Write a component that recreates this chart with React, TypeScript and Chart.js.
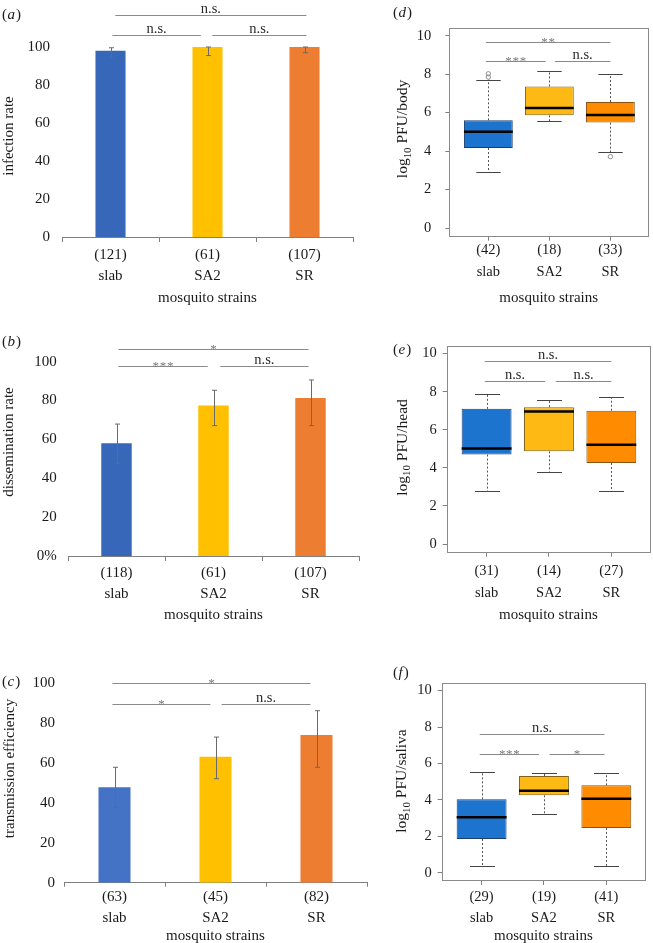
import React, { useEffect, useRef } from "react";
import { Chart, registerables } from "chart.js";

Chart.register(...registerables);

const FONT = '"Liberation Serif", "Times New Roman", Times, serif';
const TEXT = "#1a1a1a";
const AXIS = "#7f7f7f";
const SIG_LINE = "#8a8a8a";

// ---------- shared categories ----------
const strains = ["slab", "SA2", "SR"];
const xTitle = "mosquito strains";

// ---------- (a) infection rate ----------
const aCounts = ["(121)", "(61)", "(107)"];
const aRate = [98, 100, 100];
const aLow = [94.5, 95.5, 97];
const aHigh = [99.6, 100, 100];
const aSigFrom = [0.05, 0.02, 1.05];
const aSigTo = [2.02, 0.93, 2.02];
const aSigY = [116.8, 106.3, 106.3];
const aSigText = ["n.s.", "n.s.", "n.s."];

// ---------- (b) dissemination rate ----------
const bCounts = ["(118)", "(61)", "(107)"];
const bRate = [58, 77.4, 81.3];
const bLow = [47.7, 67.1, 67.1];
const bHigh = [67.9, 85.3, 90.6];
const bSigFrom = [0.02, 0.02, 1.07];
const bSigTo = [1.98, 0.94, 1.98];
const bSigY = [106.5, 97.8, 97.8];
const bSigText = ["*", "***", "n.s."];

// ---------- (c) transmission efficiency ----------
const cCounts = ["(63)", "(45)", "(82)"];
const cRate = [47.7, 63, 73.8];
const cLow = [37.7, 52, 57.7];
const cHigh = [57.7, 72.8, 86];
const cSigFrom = [-0.02, -0.02, 1.06];
const cSigTo = [1.94, 0.95, 1.94];
const cSigY = [100, 89.5, 89.5];
const cSigText = ["*", "*", "n.s."];

const rateTicks = [0, 20, 40, 60, 80, 100];
const rateTickLabels = ["0", "20", "40", "60", "80", "100"];
const rateTickLabelsPct = ["0%", "20", "40", "60", "80", "100"];

// ---------- (d) log10 PFU/body ----------
const dCounts = ["(42)", "(18)", "(33)"];
const dMin = [2.91, 5.56, 3.95];
const dQ1 = [4.16, 5.86, 5.48];
const dMed = [5.01, 6.24, 5.87];
const dQ3 = [5.6, 7.36, 6.55];
const dMax = [7.71, 8.18, 7.99];
const dOutX = [1, 1, 3];
const dOutY = [8.02, 7.85, 3.71];
const dSigFrom = [0.96, 0.96, 2.09];
const dSigTo = [3.0, 1.94, 3.0];
const dSigY = [9.69, 8.66, 8.66];
const dSigText = ["**", "***", "n.s."];

// ---------- (e) log10 PFU/head ----------
const eCounts = ["(31)", "(14)", "(27)"];
const eMin = [2.79, 3.79, 2.79];
const eQ1 = [4.7, 4.87, 4.26];
const eMed = [5.02, 6.96, 5.21];
const eQ3 = [7.1, 7.19, 7.0];
const eMax = [7.89, 7.58, 7.7];
const eOutX: number[] = [];
const eOutY: number[] = [];
const eSigFrom = [0.97, 0.97, 2.11];
const eSigTo = [3.0, 1.94, 3.0];
const eSigY = [9.59, 8.58, 8.58];
const eSigText = ["n.s.", "n.s.", "n.s."];

// ---------- (f) log10 PFU/saliva ----------
const fCounts = ["(29)", "(19)", "(41)"];
const fMin = [0.35, 3.23, 0.35];
const fQ1 = [1.85, 4.25, 2.46];
const fMed = [3.05, 4.5, 4.06];
const fQ3 = [4.03, 5.31, 4.8];
const fMax = [5.55, 5.5, 5.46];
const fOutX: number[] = [];
const fOutY: number[] = [];
const fSigFrom = [0.97, 0.97, 2.09];
const fSigTo = [2.97, 1.92, 2.97];
const fSigY = [7.61, 6.54, 6.54];
const fSigText = ["n.s.", "***", "*"];

const logTicks = [0, 2, 4, 6, 8, 10];
const logTickLabels = ["0", "2", "4", "6", "8", "10"];

// ---------- colours ----------
const barColorsAB = ["#3767b8", "#ffc000", "#ed7d31"];
const barColorsC = ["#4472c4", "#ffc000", "#ed7d31"];
const boxFill = ["#1c74cf", "#ffb914", "#ff8c00"];
const boxBorder = ["#1d3f6e", "#7f6118", "#8a5312"];

// ---------- drawing helpers ----------
function drawLetter(ctx: CanvasRenderingContext2D, letter: string, x: number, y: number) {
  ctx.save();
  ctx.fillStyle = TEXT;
  ctx.textBaseline = "middle";
  ctx.textAlign = "left";
  ctx.font = `15px ${FONT}`;
  ctx.fillText("(", x, y);
  let cx = x + ctx.measureText("(").width + 0.5;
  ctx.font = `italic 15px ${FONT}`;
  ctx.fillText(letter, cx, y);
  cx += ctx.measureText(letter).width + 1;
  ctx.font = `15px ${FONT}`;
  ctx.fillText(")", cx, y);
  ctx.restore();
}

function drawYTitle(ctx: CanvasRenderingContext2D, cx: number, cy: number, parts: { t: string; sub?: boolean }[], size: number) {
  ctx.save();
  ctx.translate(cx, cy);
  ctx.rotate(-Math.PI / 2);
  ctx.fillStyle = TEXT;
  ctx.textBaseline = "middle";
  ctx.textAlign = "left";
  const widths = parts.map((p) => {
    ctx.font = `${p.sub ? size * 0.7 : size}px ${FONT}`;
    return ctx.measureText(p.t).width;
  });
  const total = widths.reduce((a, b) => a + b, 0);
  let x = -total / 2;
  parts.forEach((p, i) => {
    ctx.font = `${p.sub ? size * 0.7 : size}px ${FONT}`;
    ctx.fillText(p.t, x, p.sub ? size * 0.3 : 0);
    x += widths[i];
  });
  ctx.restore();
}

function sigPlugin(from: number[], to: number[], yv: number[], text: string[]) {
  return {
    id: "sig",
    afterDraw(chart: any) {
      const { ctx } = chart;
      const xs = chart.scales.x;
      const ys = chart.scales.y;
      ctx.save();
      for (let i = 0; i < from.length; i++) {
        const x1 = xs.getPixelForValue(from[i]);
        const x2 = xs.getPixelForValue(to[i]);
        const y = Math.round(ys.getPixelForValue(yv[i])) + 0.5;
        ctx.strokeStyle = SIG_LINE;
        ctx.lineWidth = 1.2;
        ctx.beginPath();
        ctx.moveTo(x1, y);
        ctx.lineTo(x2, y);
        ctx.stroke();
        const isStar = text[i].startsWith("*");
        const mid = (x1 + x2) / 2;
        ctx.textAlign = "center";
        ctx.textBaseline = "alphabetic";
        if (isStar) {
          ctx.fillStyle = "#7a7a7a";
          ctx.font = `13px ${FONT}`;
          const n = text[i].length;
          const gap = 7.2;
          for (let k = 0; k < n; k++) {
            ctx.fillText("*", mid + (k - (n - 1) / 2) * gap, y + 3.5);
          }
        } else {
          ctx.fillStyle = "#2a2a2a";
          ctx.font = `14.5px ${FONT}`;
          ctx.fillText(text[i], mid, y - 3);
        }
      }
      ctx.restore();
    },
  };
}

function labelPlugin(rect: any, letter: string, letterPos: number[], titleParts: { t: string; sub?: boolean }[], titlePos: number[], titleSize: number) {
  return {
    id: "labels",
    afterDraw(chart: any) {
      const { ctx } = chart;
      drawLetter(ctx, letter, letterPos[0] - rect.left, letterPos[1] - rect.top);
      drawYTitle(ctx, titlePos[0] - rect.left, titlePos[1] - rect.top, titleParts, titleSize);
    },
  };
}

function errorBarPlugin(low: number[], high: number[]) {
  return {
    id: "errbars",
    afterDatasetsDraw(chart: any) {
      const { ctx } = chart;
      const xs = chart.scales.x;
      const ys = chart.scales.y;
      ctx.save();
      ctx.strokeStyle = "#6a6a6a";
      ctx.lineWidth = 1;
      for (let i = 0; i < low.length; i++) {
        const x = Math.round(xs.getPixelForValue(i)) + 0.5;
        const y1 = ys.getPixelForValue(low[i]);
        const y2 = ys.getPixelForValue(high[i]);
        ctx.beginPath();
        ctx.moveTo(x, y1);
        ctx.lineTo(x, y2);
        ctx.moveTo(x - 2.5, y1);
        ctx.lineTo(x + 2.5, y1);
        ctx.moveTo(x - 2.5, y2);
        ctx.lineTo(x + 2.5, y2);
        ctx.stroke();
      }
      ctx.restore();
    },
  };
}

function boxPlugin(min: number[], med: number[], max: number[], q1: number[], q3: number[]) {
  return {
    id: "boxparts",
    afterDatasetsDraw(chart: any) {
      const { ctx } = chart;
      const ys = chart.scales.y;
      const meta = chart.getDatasetMeta(0);
      ctx.save();
      meta.data.forEach((el: any, i: number) => {
        const { x, width } = el.getProps(["x", "width"], true);
        const cx = Math.round(x) + 0.5;
        const pMin = ys.getPixelForValue(min[i]);
        const pMax = ys.getPixelForValue(max[i]);
        const pQ1 = ys.getPixelForValue(q1[i]);
        const pQ3 = ys.getPixelForValue(q3[i]);
        const pMed = ys.getPixelForValue(med[i]);
        ctx.strokeStyle = "#555";
        ctx.lineWidth = 1;
        ctx.setLineDash([2, 2]);
        ctx.beginPath();
        ctx.moveTo(cx, pQ3);
        ctx.lineTo(cx, pMax);
        ctx.moveTo(cx, pQ1);
        ctx.lineTo(cx, pMin);
        ctx.stroke();
        ctx.setLineDash([]);
        const cw = width / 4;
        ctx.strokeStyle = "#444";
        ctx.beginPath();
        ctx.moveTo(cx - cw, Math.round(pMax) + 0.5);
        ctx.lineTo(cx + cw, Math.round(pMax) + 0.5);
        ctx.moveTo(cx - cw, Math.round(pMin) + 0.5);
        ctx.lineTo(cx + cw, Math.round(pMin) + 0.5);
        ctx.stroke();
        ctx.strokeStyle = "#000";
        ctx.lineWidth = 2.5;
        ctx.beginPath();
        ctx.moveTo(x - width / 2, pMed);
        ctx.lineTo(x + width / 2, pMed);
        ctx.stroke();
      });
      ctx.restore();
    },
    afterDraw(chart: any) {
      const { ctx, chartArea } = chart;
      ctx.save();
      ctx.strokeStyle = "#8a8a8a";
      ctx.lineWidth = 1;
      ctx.strokeRect(
        Math.round(chartArea.left) + 0.5,
        Math.round(chartArea.top) + 0.5,
        Math.round(chartArea.right - chartArea.left),
        Math.round(chartArea.bottom - chartArea.top)
      );
      ctx.restore();
    },
  };
}

// ---------- panel specs (layout) ----------
type Rect = { left: number; top: number; width: number; height: number };
type Area = { left: number; top: number; right: number; bottom: number };

function makeBarChart(canvas: HTMLCanvasElement, s: any) {
  const r: Rect = s.rect;
  const a: Area = s.area;
  return new Chart(canvas, {
    type: "bar",
    data: {
      labels: strains,
      datasets: [
        {
          data: s.values,
          backgroundColor: s.colors,
          borderWidth: 0,
          barPercentage: s.barPct,
          categoryPercentage: 1,
        },
      ],
    },
    options: {
      animation: false,
      responsive: false,
      layout: { padding: { left: 0, top: a.top - r.top, right: r.left + r.width - a.right, bottom: 0 } },
      plugins: { legend: { display: false }, tooltip: { enabled: false } },
      scales: {
        x: {
          type: "category",
          offset: true,
          grid: { display: true, offset: true, drawOnChartArea: false, drawTicks: true, tickLength: s.tickLen, color: AXIS },
          border: { display: true, color: AXIS },
          ticks: {
            autoSkip: false,
            maxRotation: 0,
            padding: s.xPad,
            color: TEXT,
            font: { family: FONT, size: 15, lineHeight: `${s.lineH}px` },
            callback: (_v: any, i: number) => [s.counts[i], strains[i]],
          },
          title: { display: true, text: xTitle, color: TEXT, padding: 0, font: { family: FONT, size: 15, lineHeight: "18px" } },
          afterFit: (sc: any) => {
            sc.height = r.top + r.height - a.bottom;
          },
        },
        y: {
          min: 0,
          max: 100,
          grid: { display: false, drawTicks: false },
          border: { display: false },
          ticks: {
            padding: s.yPad,
            color: TEXT,
            font: { family: FONT, size: 15 },
            callback: (_v: any, i: number) => s.tickLabels[i],
          },
          afterBuildTicks: (sc: any) => {
            sc.ticks = rateTicks.map((v) => ({ value: v }));
          },
          afterFit: (sc: any) => {
            sc.width = a.left - r.left;
          },
        },
      },
    } as any,
    plugins: [
      errorBarPlugin(s.low, s.high),
      sigPlugin(s.sigFrom, s.sigTo, s.sigY, s.sigText),
      labelPlugin(r, s.letter, s.letterPos, [{ t: s.yTitle }], s.titlePos, 15),
    ],
  });
}

function makeBoxChart(canvas: HTMLCanvasElement, s: any) {
  const r: Rect = s.rect;
  const a: Area = s.area;
  return new Chart(canvas, {
    type: "bar",
    data: {
      datasets: [
        {
          type: "bar",
          data: strains.map((_, i) => ({ x: i + 1, y: [s.q1[i], s.q3[i]] })),
          backgroundColor: boxFill,
          borderColor: boxBorder,
          borderWidth: 1,
          borderSkipped: false,
          barPercentage: 0.8,
          categoryPercentage: 1,
        },
        {
          type: "scatter",
          data: s.outX.map((x: number, i: number) => ({ x, y: s.outY[i] })),
          pointRadius: 2.2,
          pointBorderWidth: 0.8,
          borderColor: "#777",
          backgroundColor: "rgba(255,255,255,0)",
          pointBackgroundColor: "rgba(255,255,255,0)",
          pointBorderColor: "#777",
        },
      ],
    },
    options: {
      animation: false,
      responsive: false,
      layout: { padding: { left: 0, top: a.top - r.top, right: r.left + r.width - a.right, bottom: 0 } },
      plugins: { legend: { display: false }, tooltip: { enabled: false } },
      scales: {
        x: {
          type: "linear",
          min: 0.36,
          max: 3.62,
          offset: false,
          grid: { display: true, offset: false, drawOnChartArea: false, drawTicks: true, tickLength: 5, color: AXIS },
          border: { display: false },
          ticks: {
            autoSkip: false,
            maxRotation: 0,
            padding: s.xPad,
            color: TEXT,
            font: { family: FONT, size: 14.5, lineHeight: `${s.lineH}px` },
            callback: (_v: any, i: number) => [s.counts[i], strains[i]],
          },
          afterBuildTicks: (sc: any) => {
            sc.ticks = [1, 2, 3].map((v) => ({ value: v }));
          },
          title: { display: true, text: xTitle, color: TEXT, padding: 0, font: { family: FONT, size: 15, lineHeight: "18px" } },
          afterFit: (sc: any) => {
            sc.height = r.top + r.height - a.bottom;
          },
        },
        y: {
          min: -0.4,
          max: 10.4,
          grid: { display: true, drawOnChartArea: false, drawTicks: true, tickLength: 4, color: AXIS },
          border: { display: false },
          ticks: {
            padding: s.yPad,
            color: TEXT,
            font: { family: FONT, size: 14.5 },
            callback: (_v: any, i: number) => logTickLabels[i],
          },
          afterBuildTicks: (sc: any) => {
            sc.ticks = logTicks.map((v) => ({ value: v }));
          },
          afterFit: (sc: any) => {
            sc.width = a.left - r.left;
          },
        },
      },
    } as any,
    plugins: [
      boxPlugin(s.min, s.med, s.max, s.q1, s.q3),
      sigPlugin(s.sigFrom, s.sigTo, s.sigY, s.sigText),
      labelPlugin(r, s.letter, s.letterPos, [{ t: "log" }, { t: "10", sub: true }, { t: " " + s.yTitle }], s.titlePos, 15.5),
    ],
  });
}

const panelA = {
  rect: { left: 0, top: 0, width: 385, height: 307 },
  area: { left: 62, top: 47, right: 353, bottom: 237 },
  counts: aCounts, values: aRate, low: aLow, high: aHigh, colors: barColorsAB, tickLabels: rateTickLabels,
  sigFrom: aSigFrom, sigTo: aSigTo, sigY: aSigY, sigText: aSigText,
  letter: "a", letterPos: [2, 15], yTitle: "infection rate", titlePos: [9, 136],
  yPad: 12, tickLen: 5, xPad: 2.5, lineH: 21, barPct: 0.31,
};
const panelB = {
  rect: { left: 0, top: 310, width: 385, height: 314 },
  area: { left: 68, top: 361.7, right: 359, bottom: 556 },
  counts: bCounts, values: bRate, low: bLow, high: bHigh, colors: barColorsAB, tickLabels: rateTickLabelsPct,
  sigFrom: bSigFrom, sigTo: bSigTo, sigY: bSigY, sigText: bSigText,
  letter: "b", letterPos: [2, 341.7], yTitle: "dissemination rate", titlePos: [9, 442],
  yPad: 11.3, tickLen: 5, xPad: 1.5, lineH: 21, barPct: 0.314,
};
const panelC = {
  rect: { left: 0, top: 630, width: 385, height: 315 },
  area: { left: 64, top: 682.7, right: 367, bottom: 882.7 },
  counts: cCounts, values: cRate, low: cLow, high: cHigh, colors: barColorsC, tickLabels: rateTickLabels,
  sigFrom: cSigFrom, sigTo: cSigTo, sigY: cSigY, sigText: cSigText,
  letter: "c", letterPos: [2, 681.7], yTitle: "transmission efficiency", titlePos: [10.5, 768.5],
  yPad: 9, tickLen: 4, xPad: 0.4, lineH: 20.4, barPct: 0.317,
};
const panelD = {
  rect: { left: 385, top: 0, width: 268, height: 307 },
  area: { left: 449.3, top: 28, right: 651, bottom: 235.7 },
  counts: dCounts, min: dMin, q1: dQ1, med: dMed, q3: dQ3, max: dMax, outX: dOutX, outY: dOutY,
  sigFrom: dSigFrom, sigTo: dSigTo, sigY: dSigY, sigText: dSigText,
  letter: "d", letterPos: [393, 13.3], yTitle: "PFU/body", titlePos: [403, 129],
  yPad: 14, xPad: -2.2, lineH: 22.4,
};
const panelE = {
  rect: { left: 385, top: 310, width: 268, height: 314 },
  area: { left: 446.7, top: 346, right: 650, bottom: 551.7 },
  counts: eCounts, min: eMin, q1: eQ1, med: eMed, q3: eQ3, max: eMax, outX: eOutX, outY: eOutY,
  sigFrom: eSigFrom, sigTo: eSigTo, sigY: eSigY, sigText: eSigText,
  letter: "e", letterPos: [393, 350], yTitle: "PFU/head", titlePos: [402.5, 447.5],
  yPad: 6, xPad: 2.7, lineH: 22.6,
};
const panelF = {
  rect: { left: 385, top: 630, width: 268, height: 315 },
  area: { left: 441.7, top: 683.3, right: 645, bottom: 880 },
  counts: fCounts, min: fMin, q1: fQ1, med: fMed, q3: fQ3, max: fMax, outX: fOutX, outY: fOutY,
  sigFrom: fSigFrom, sigTo: fSigTo, sigY: fSigY, sigText: fSigText,
  letter: "f", letterPos: [393, 673.3], yTitle: "PFU/saliva", titlePos: [402, 781],
  yPad: 6, xPad: 2.1, lineH: 20.4,
};

function Panel({ spec, kind }: { spec: any; kind: "bar" | "box" }) {
  const ref = useRef<HTMLCanvasElement>(null);
  useEffect(() => {
    const c = ref.current;
    if (!c) return;
    const chart = kind === "bar" ? makeBarChart(c, spec) : makeBoxChart(c, spec);
    return () => chart.destroy();
  }, [spec, kind]);
  const r: Rect = spec.rect;
  return (
    <canvas
      ref={ref}
      width={r.width}
      height={r.height}
      style={{ position: "absolute", left: r.left, top: r.top, width: r.width, height: r.height }}
    />
  );
}

export default function App() {
  return (
    <div
      style={{
        position: "absolute",
        left: 0,
        top: 0,
        width: 653,
        height: 943,
        overflow: "hidden",
        background: "#ffffff",
      }}
    >
      <Panel spec={panelA} kind="bar" />
      <Panel spec={panelB} kind="bar" />
      <Panel spec={panelC} kind="bar" />
      <Panel spec={panelD} kind="box" />
      <Panel spec={panelE} kind="box" />
      <Panel spec={panelF} kind="box" />
    </div>
  );
}
